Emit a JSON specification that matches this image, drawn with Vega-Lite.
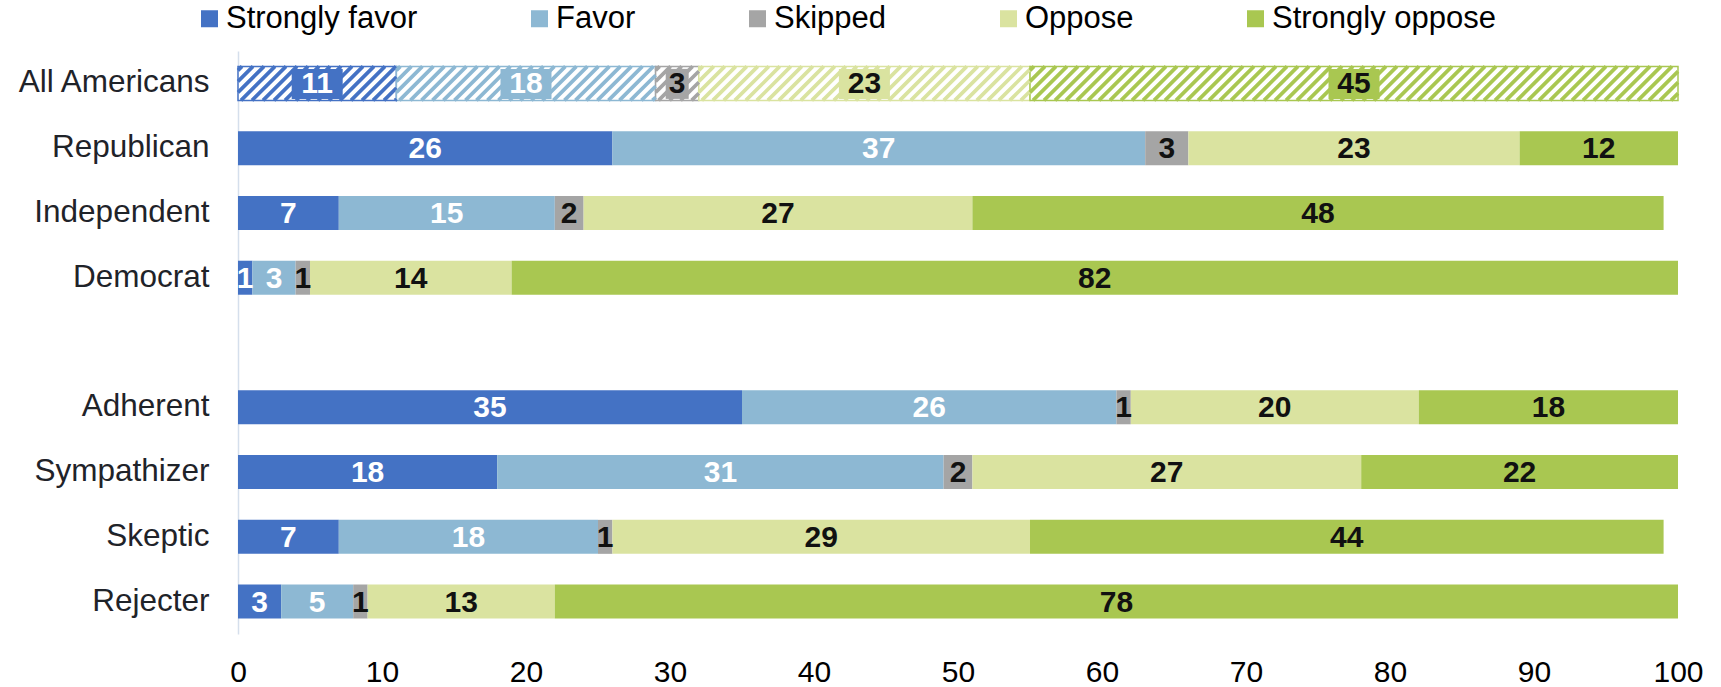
{
  "$schema": "https://vega.github.io/schema/vega-lite/v6.json",
  "width": 1440,
  "height": 583,
  "autosize": {"type": "none"},
  "padding": {"left": 238, "top": 51, "right": 43, "bottom": 53},
  "background": "white",
  "config": {
    "view": {"stroke": null},
    "font": "Liberation Sans",
    "axisY": {"domain": true, "domainColor": "#D5DFEC", "domainWidth": 1.5, "ticks": false, "grid": false, "labelFontSize": 31.5, "labelColor": "#1F2329", "labelPadding": 29, "labelLimit": 400, "labelFont": "Liberation Sans"},
    "axisX": {"domain": false, "ticks": false, "grid": false, "labelFontSize": 30, "labelColor": "#000000", "labelPadding": 23, "tickCount": 10, "labelFlush": false, "labelOverlap": false, "labelFont": "Liberation Sans"}
  },
  "data": {
    "values": [
      {"group": "All Americans", "response": "Strongly favor", "value": 11, "label": "11", "order": 1},
      {"group": "All Americans", "response": "Favor", "value": 18, "label": "18", "order": 2},
      {"group": "All Americans", "response": "Skipped", "value": 3, "label": "3", "order": 3},
      {"group": "All Americans", "response": "Oppose", "value": 23, "label": "23", "order": 4},
      {"group": "All Americans", "response": "Strongly oppose", "value": 45, "label": "45", "order": 5},
      {"group": "Republican", "response": "Strongly favor", "value": 26, "label": "26", "order": 1},
      {"group": "Republican", "response": "Favor", "value": 37, "label": "37", "order": 2},
      {"group": "Republican", "response": "Skipped", "value": 3, "label": "3", "order": 3},
      {"group": "Republican", "response": "Oppose", "value": 23, "label": "23", "order": 4},
      {"group": "Republican", "response": "Strongly oppose", "value": 11, "label": "12", "order": 5},
      {"group": "Independent", "response": "Strongly favor", "value": 7, "label": "7", "order": 1},
      {"group": "Independent", "response": "Favor", "value": 15, "label": "15", "order": 2},
      {"group": "Independent", "response": "Skipped", "value": 2, "label": "2", "order": 3},
      {"group": "Independent", "response": "Oppose", "value": 27, "label": "27", "order": 4},
      {"group": "Independent", "response": "Strongly oppose", "value": 48, "label": "48", "order": 5},
      {"group": "Democrat", "response": "Strongly favor", "value": 1, "label": "1", "order": 1},
      {"group": "Democrat", "response": "Favor", "value": 3, "label": "3", "order": 2},
      {"group": "Democrat", "response": "Skipped", "value": 1, "label": "1", "order": 3},
      {"group": "Democrat", "response": "Oppose", "value": 14, "label": "14", "order": 4},
      {"group": "Democrat", "response": "Strongly oppose", "value": 81, "label": "82", "order": 5},
      {"group": "Adherent", "response": "Strongly favor", "value": 35, "label": "35", "order": 1},
      {"group": "Adherent", "response": "Favor", "value": 26, "label": "26", "order": 2},
      {"group": "Adherent", "response": "Skipped", "value": 1, "label": "1", "order": 3},
      {"group": "Adherent", "response": "Oppose", "value": 20, "label": "20", "order": 4},
      {"group": "Adherent", "response": "Strongly oppose", "value": 18, "label": "18", "order": 5},
      {"group": "Sympathizer", "response": "Strongly favor", "value": 18, "label": "18", "order": 1},
      {"group": "Sympathizer", "response": "Favor", "value": 31, "label": "31", "order": 2},
      {"group": "Sympathizer", "response": "Skipped", "value": 2, "label": "2", "order": 3},
      {"group": "Sympathizer", "response": "Oppose", "value": 27, "label": "27", "order": 4},
      {"group": "Sympathizer", "response": "Strongly oppose", "value": 22, "label": "22", "order": 5},
      {"group": "Skeptic", "response": "Strongly favor", "value": 7, "label": "7", "order": 1},
      {"group": "Skeptic", "response": "Favor", "value": 18, "label": "18", "order": 2},
      {"group": "Skeptic", "response": "Skipped", "value": 1, "label": "1", "order": 3},
      {"group": "Skeptic", "response": "Oppose", "value": 29, "label": "29", "order": 4},
      {"group": "Skeptic", "response": "Strongly oppose", "value": 44, "label": "44", "order": 5},
      {"group": "Rejecter", "response": "Strongly favor", "value": 3, "label": "3", "order": 1},
      {"group": "Rejecter", "response": "Favor", "value": 5, "label": "5", "order": 2},
      {"group": "Rejecter", "response": "Skipped", "value": 1, "label": "1", "order": 3},
      {"group": "Rejecter", "response": "Oppose", "value": 13, "label": "13", "order": 4},
      {"group": "Rejecter", "response": "Strongly oppose", "value": 78, "label": "78", "order": 5}
    ]
  },
  "encoding": {
    "y": {
      "field": "group",
      "type": "nominal",
      "title": null,
      "scale": {
        "domain": ["All Americans", "Republican", "Independent", "Democrat", " ", "Adherent", "Sympathizer", "Skeptic", "Rejecter"],
        "paddingInner": 0.475,
        "paddingOuter": 0.2375
      }
    }
  },
  "layer": [
    {
      "transform": [{"filter": "datum.group !== 'All Americans'"}],
      "mark": {"type": "bar"},
      "encoding": {
        "x": {"field": "value", "type": "quantitative", "stack": "zero", "title": null, "scale": {"domain": [0, 100], "nice": false}},
        "color": {
          "field": "response",
          "type": "nominal",
          "scale": {"domain": ["Strongly favor", "Favor", "Skipped", "Oppose", "Strongly oppose"], "range": ["#4472C4", "#8DB8D3", "#A5A5A5", "#DAE3A0", "#A9C751"]},
          "legend": {"orient": "none", "legendX": -44, "legendY": -48, "direction": "horizontal", "title": null, "symbolType": "square", "symbolSize": 289, "symbolStrokeWidth": 0, "symbolOpacity": 1, "labelFontSize": 31, "labelOffset": 1, "columnPadding": 106, "padding": 0, "labelFont": "Liberation Sans", "labelColor": "#000000", "labelLimit": 400}
        },
        "order": {"field": "order", "type": "quantitative"}
      }
    },
    {
      "transform": [{"filter": "datum.group === 'All Americans'"}],
      "mark": {"type": "bar", "fill": "white", "strokeWidth": 1.5},
      "encoding": {
        "x": {"field": "value", "type": "quantitative", "stack": "zero", "title": null, "scale": {"domain": [0, 100], "nice": false}},
        "stroke": {
          "field": "response",
          "type": "nominal",
          "scale": {"domain": ["Strongly favor", "Favor", "Skipped", "Oppose", "Strongly oppose"], "range": ["#4472C4", "#8DB8D3", "#A5A5A5", "#DAE3A0", "#A9C751"]},
          "legend": null
        },
        "order": {"field": "order", "type": "quantitative"}
      }
    },
    {
      "transform": [{"filter": "datum.group === 'All Americans'"}],
      "mark": {"type": "point", "filled": false, "size": 4, "strokeWidth": 3.6, "opacity": 1},
      "encoding": {
        "x": {"field": "value", "type": "quantitative", "stack": "zero", "bandPosition": 0.5, "title": null, "scale": {"domain": [0, 100], "nice": false}},
        "stroke": {
          "field": "response",
          "type": "nominal",
          "scale": {"domain": ["Strongly favor", "Favor", "Skipped", "Oppose", "Strongly oppose"], "range": ["#4472C4", "#8DB8D3", "#A5A5A5", "#DAE3A0", "#A9C751"]},
          "legend": null
        },
        "shape": {
          "condition": [
            {"test": "datum.response === 'Strongly favor'", "value": "M-79.2,-13L-75.2,-17M-79.2,-2L-64.2,-17M-79.2,9L-53.2,-17M-76.2,17l34,-34m-23,34l34,-34m-23,34l34,-34m-23,34l34,-34m-23,34l34,-34m-23,34l34,-34m-23,34l34,-34m-23,34l34,-34m-23,34l34,-34m-23,34l34,-34M33.8,17l34,-34m-23,34l34,-34M55.8,17L79.2,-6.4M66.8,17L79.2,4.6M77.8,17L79.2,15.6"},
            {"test": "datum.response === 'Favor'", "value": "M-129.6,-13L-125.6,-17M-129.6,-2L-114.6,-17M-129.6,9L-103.6,-17M-126.6,17l34,-34m-23,34l34,-34m-23,34l34,-34m-23,34l34,-34m-23,34l34,-34m-23,34l34,-34m-23,34l34,-34m-23,34l34,-34m-23,34l34,-34m-23,34l34,-34M-16.6,17l34,-34m-23,34l34,-34m-23,34l34,-34m-23,34l34,-34m-23,34l34,-34m-23,34l34,-34m-23,34l34,-34m-23,34l34,-34m-23,34l34,-34m-23,34l34,-34M93.4,17l34,-34M104.4,17L129.6,-8.2M115.4,17L129.6,2.8M126.4,17L129.6,13.8"},
            {"test": "datum.response === 'Skipped'", "value": "M-21.6,-13L-17.6,-17M-21.6,-2L-6.6,-17M-21.6,9L4.4,-17M-18.6,17l34,-34M-7.6,17L21.6,-12.2M3.4,17L21.6,-1.2M14.4,17L21.6,9.8"},
            {"test": "datum.response === 'Oppose'", "value": "M-165.6,-13L-161.6,-17M-165.6,-2L-150.6,-17M-165.6,9L-139.6,-17M-162.6,17l34,-34m-23,34l34,-34m-23,34l34,-34m-23,34l34,-34m-23,34l34,-34m-23,34l34,-34m-23,34l34,-34m-23,34l34,-34m-23,34l34,-34m-23,34l34,-34M-52.6,17l34,-34m-23,34l34,-34m-23,34l34,-34m-23,34l34,-34m-23,34l34,-34m-23,34l34,-34m-23,34l34,-34m-23,34l34,-34m-23,34l34,-34m-23,34l34,-34M57.4,17l34,-34m-23,34l34,-34m-23,34l34,-34m-23,34l34,-34m-23,34l34,-34m-23,34l34,-34m-23,34l34,-34M134.4,17L165.6,-14.2M145.4,17L165.6,-3.2M156.4,17L165.6,7.8"}
          ],
          "value": "M-324,-13L-320,-17M-324,-2L-309,-17M-324,9L-298,-17M-321,17l34,-34m-23,34l34,-34m-23,34l34,-34m-23,34l34,-34m-23,34l34,-34m-23,34l34,-34m-23,34l34,-34m-23,34l34,-34m-23,34l34,-34m-23,34l34,-34M-211,17l34,-34m-23,34l34,-34m-23,34l34,-34m-23,34l34,-34m-23,34l34,-34m-23,34l34,-34m-23,34l34,-34m-23,34l34,-34m-23,34l34,-34m-23,34l34,-34M-101,17l34,-34m-23,34l34,-34m-23,34l34,-34m-23,34l34,-34m-23,34l34,-34m-23,34l34,-34m-23,34l34,-34m-23,34l34,-34m-23,34l34,-34m-23,34l34,-34M9,17l34,-34m-23,34l34,-34m-23,34l34,-34m-23,34l34,-34m-23,34l34,-34m-23,34l34,-34m-23,34l34,-34m-23,34l34,-34m-23,34l34,-34m-23,34l34,-34M119,17l34,-34m-23,34l34,-34m-23,34l34,-34m-23,34l34,-34m-23,34l34,-34m-23,34l34,-34m-23,34l34,-34m-23,34l34,-34m-23,34l34,-34m-23,34l34,-34M229,17l34,-34m-23,34l34,-34m-23,34l34,-34m-23,34l34,-34m-23,34l34,-34m-23,34l34,-34M295,17L324,-12M306,17L324,-1M317,17L324,10"
        },
        "order": {"field": "order", "type": "quantitative"}
      }
    },
    {
      "transform": [{"filter": "datum.group === 'All Americans'"}],
      "mark": {"type": "point", "filled": true, "size": 4, "opacity": 1, "strokeWidth": 0},
      "encoding": {
        "x": {"field": "value", "type": "quantitative", "stack": "zero", "bandPosition": 0.5, "title": null, "scale": {"domain": [0, 100], "nice": false}},
        "fill": {
          "field": "response",
          "type": "nominal",
          "scale": {"domain": ["Strongly favor", "Favor", "Skipped", "Oppose", "Strongly oppose"], "range": ["#4472C4", "#8DB8D3", "#A5A5A5", "#DAE3A0", "#A9C751"]},
          "legend": null
        },
        "shape": {"condition": {"test": "datum.value < 10", "value": "M-11.5,-14.5h23v30h-23z"}, "value": "M-25.5,-14.5h51v30h-51z"},
        "order": {"field": "order", "type": "quantitative"}
      }
    },
    {
      "transform": [{"filter": "datum.order <= 2"}],
      "mark": {"type": "text", "fontSize": 30, "fontWeight": "bold", "baseline": "middle", "align": "center", "dy": 1, "font": "Liberation Sans", "color": "#FFFFFF"},
      "encoding": {
        "x": {"field": "value", "type": "quantitative", "stack": "zero", "bandPosition": 0.5, "title": null, "scale": {"domain": [0, 100], "nice": false}},
        "detail": {"field": "response", "type": "nominal"},
        "order": {"field": "order", "type": "quantitative"},
        "text": {"field": "label", "type": "nominal"}
      }
    },
    {
      "mark": {"type": "text", "fontSize": 30, "fontWeight": "bold", "baseline": "middle", "align": "center", "dy": 1, "font": "Liberation Sans", "color": "#111111"},
      "encoding": {
        "x": {"field": "value", "type": "quantitative", "stack": "zero", "bandPosition": 0.5, "title": null, "scale": {"domain": [0, 100], "nice": false}},
        "detail": {"field": "response", "type": "nominal"},
        "order": {"field": "order", "type": "quantitative"},
        "text": {"field": "label", "type": "nominal"},
        "opacity": {"condition": {"test": "datum.order <= 2", "value": 0}, "value": 1}
      }
    }
  ]
}
